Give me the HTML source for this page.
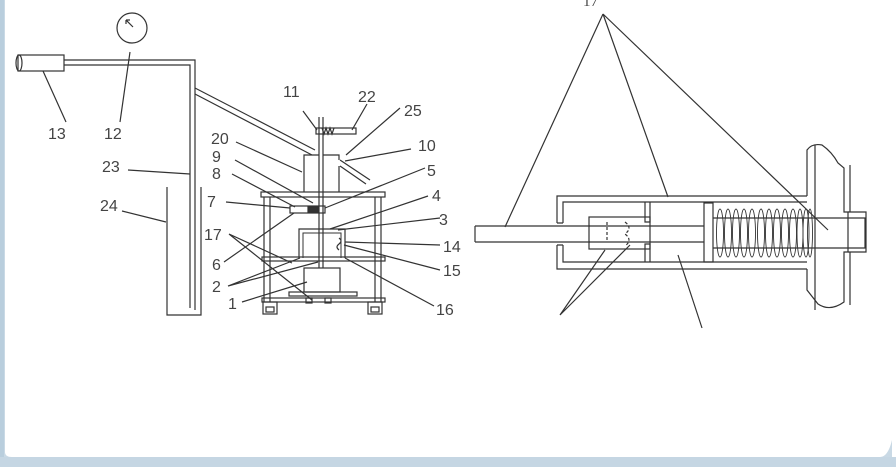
<!DOCTYPE html>
<html><head><meta charset="utf-8"><style>
html,body{margin:0;padding:0;background:#fff}
svg{display:block}
text{font-family:"Liberation Sans",sans-serif;font-size:16px;fill:#444}
</style></head><body>
<svg width="896" height="467" viewBox="0 0 896 467" xmlns="http://www.w3.org/2000/svg">
<rect width="896" height="467" fill="#fff"/>
<path d="M0 0 H5 V452 Q5 457 12 457 H880 Q888 457 892 440 V467 H0 Z" fill="#c9d9e5"/>
<rect x="0" y="0" width="4" height="467" fill="#b9cedd"/>
<rect x="0" y="457" width="896" height="10" fill="#c5d6e3"/>
<g stroke="#333" stroke-width="1.2" fill="none">
<rect x="18" y="55" width="46" height="16" fill="#fff"/>
<ellipse cx="19" cy="63" rx="3" ry="8"/>
<circle cx="132" cy="28" r="15"/>
<path d="M126 20 L133 27 M126 20 l0 4 M126 20 l4 0"/>
<path d="M64 60 H195 V310 M64 65 H190 V308"/>
<path d="M195 88 L315 150 M195 94 L312 155"/>
<path d="M340 160 L370 180 M340 166 L366 184"/>
<path d="M167 187 V315 H201 V187"/>
<path d="M304 192 V155 H319 M323 155 H339 V160 M339 166 V192"/>
<path d="M319 117 V268 M323 117 V268"/>
<rect x="316" y="128" width="40" height="6"/>
<path d="M322 128 l2 6 l2 -6 l2 6 l2 -6 l2 6 l2 -6"/>
<rect x="261" y="192" width="124" height="5"/>
<path d="M264 197 V302 M270 197 V302 M375 197 V302 M381 197 V302"/>
<rect x="262" y="257" width="123" height="4"/>
<rect x="262" y="298" width="123" height="4"/>
<rect x="263" y="302" width="14" height="12"/><rect x="266" y="307" width="8" height="5"/>
<rect x="368" y="302" width="14" height="12"/><rect x="371" y="307" width="8" height="5"/>
<rect x="290" y="206" width="35" height="7"/>
<rect x="308" y="207" width="10" height="5" fill="#333"/>
<path d="M299 258 V229 H345 V258"/>
<path d="M303 258 V233 H341 V258" stroke-width="1"/>
<path d="M339 238 q4 3 0 6 q-4 3 0 6"/>
<rect x="304" y="268" width="36" height="24"/>
<rect x="289" y="292" width="68" height="4"/>
<rect x="306" y="298" width="6" height="5"/><rect x="325" y="298" width="6" height="5"/>
<path d="M43 71 L66 122 M130 52 L120 122 M128 170 L190 174 M122 211 L166 222"/>
<path d="M303 111 L317 130 M367 104 L352 130 M400 108 L346 155 M411 149 L345 161 M236 142 L302 172 M235 160 L313 203 M425 168 L325 208 M232 174 L295 207 M428 196 L330 229 M226 202 L290 208 M440 218 L338 230 M229 234 L292 263 M229 234 L312 300 M440 245 L345 242 M224 262 L294 213 M440 270 L344 245 M228 286 L300 258 M228 286 L318 262 M242 302 L307 282 M434 306 L345 258"/>
<path d="M475 226 H590 M475 242 H590 M475 226 V242"/>
<path d="M557 223 V196 H807 M557 245 V269 H807 M563 223 V202 H807 M563 245 V262 H807"/>
<path d="M557 223 H563 M557 245 H563"/>
<rect x="589" y="217" width="61" height="32"/>
<path d="M589 226 H704 M589 242 H704"/>
<path d="M645 202 V222 H650 V202 M645 262 V244 H650 V262"/>
<path d="M607 222 V240 M625 222 q8 6 0 12 q8 6 0 12" stroke-dasharray="3 2"/>
<rect x="704" y="203" width="9" height="59"/>
<path d="M713 218 H865 V248 H713"/>
<g stroke-width="0.9">
<ellipse cx="720" cy="233" rx="3.5" ry="24"/><ellipse cx="728" cy="233" rx="3.5" ry="24"/>
<ellipse cx="736" cy="233" rx="3.5" ry="24"/><ellipse cx="744" cy="233" rx="3.5" ry="24"/>
<ellipse cx="752" cy="233" rx="3.5" ry="24"/><ellipse cx="761" cy="233" rx="3.5" ry="24"/>
<ellipse cx="769" cy="233" rx="3.5" ry="24"/><ellipse cx="777" cy="233" rx="3.5" ry="24"/>
<ellipse cx="785" cy="233" rx="3.5" ry="24"/><ellipse cx="793" cy="233" rx="3.5" ry="24"/>
<ellipse cx="800" cy="233" rx="3" ry="24"/><ellipse cx="806" cy="233" rx="3" ry="24"/>
<ellipse cx="810" cy="233" rx="2.5" ry="24"/>
</g>
<path d="M807 196 V150 Q812 143 822 145 Q832 152 838 163 L844 168 V212 H848 V252 H844 V302 Q830 312 818 304 L807 290 V269"/>
<path d="M815 145 V310 M850 165 V212 M850 252 V305"/>
<path d="M848 212 H866 V252 H848"/>
<path d="M603 14 L505 227 M603 14 L668 197 M603 14 L828 230"/>
<path d="M560 315 L605 250 M560 315 L630 245 M702 328 L678 255"/>
</g>
<text x="48" y="139">13</text>
<text x="104" y="139">12</text>
<text x="102" y="172">23</text>
<text x="100" y="211">24</text>
<text x="283" y="97">11</text>
<text x="358" y="102">22</text>
<text x="404" y="116">25</text>
<text x="211" y="144">20</text>
<text x="418" y="151">10</text>
<text x="212" y="162">9</text>
<text x="427" y="176">5</text>
<text x="212" y="179">8</text>
<text x="432" y="201">4</text>
<text x="207" y="207">7</text>
<text x="439" y="225">3</text>
<text x="204" y="240">17</text>
<text x="443" y="252">14</text>
<text x="212" y="270">6</text>
<text x="443" y="276">15</text>
<text x="212" y="292">2</text>
<text x="228" y="309">1</text>
<text x="436" y="315">16</text>
<text x="583" y="6" style="font-family:'Liberation Serif',serif;font-size:15px">17</text>
</svg>
</body></html>
